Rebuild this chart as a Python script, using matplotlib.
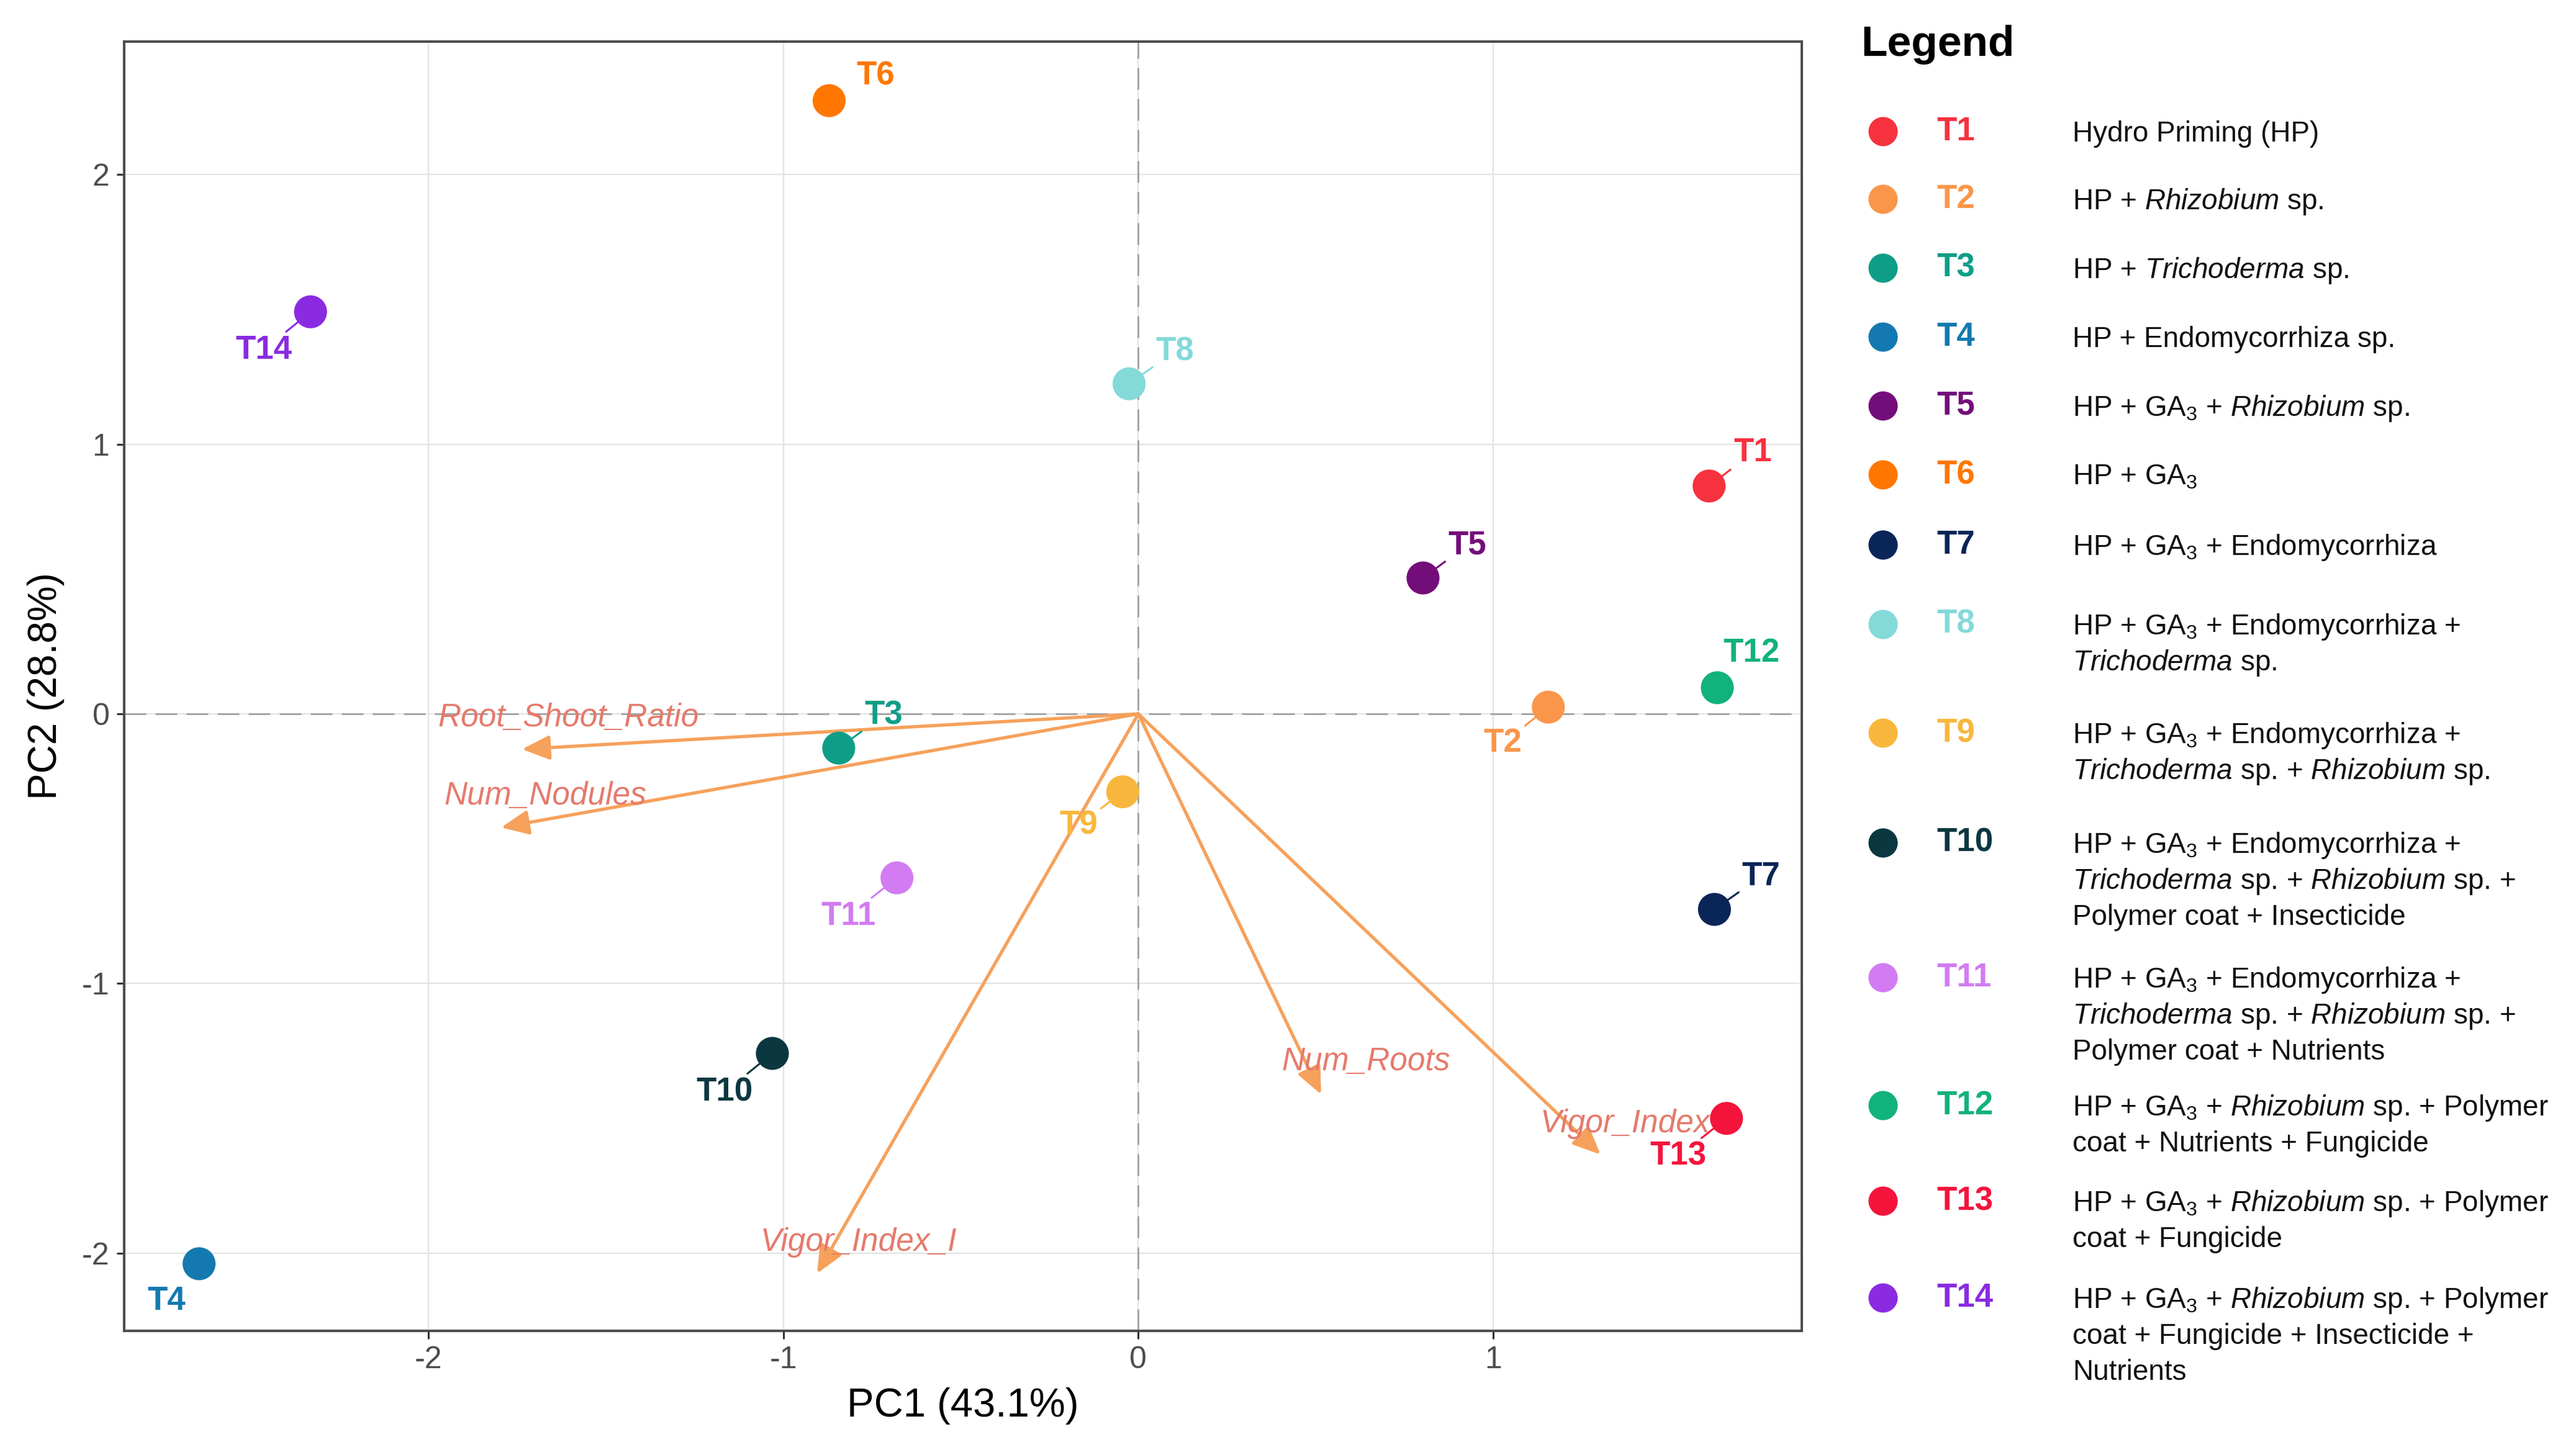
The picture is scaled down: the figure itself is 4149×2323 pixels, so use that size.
import matplotlib
matplotlib.use("Agg")
import matplotlib.pyplot as plt
from matplotlib.patches import FancyArrowPatch

plt.rcParams['font.family'] = ['Liberation Sans', 'DejaVu Sans']
plt.rcParams['mathtext.fontset'] = 'custom'
plt.rcParams['mathtext.rm'] = 'Liberation Sans'
plt.rcParams['mathtext.it'] = 'Liberation Sans:italic'
plt.rcParams['mathtext.bf'] = 'Liberation Sans:bold'

# ---------------- data ----------------
treatments = ['T1', 'T2', 'T3', 'T4', 'T5', 'T6', 'T7',
              'T8', 'T9', 'T10', 'T11', 'T12', 'T13', 'T14']
pc1 = [1.608, 1.155, -0.844, -2.646, 0.802, -0.871, 1.623,
       -0.026, -0.044, -1.031, -0.680, 1.631, 1.657, -2.332]
pc2 = [0.845, 0.025, -0.127, -2.039, 0.504, 2.274, -0.725,
       1.224, -0.289, -1.259, -0.608, 0.097, -1.500, 1.491]
colors = ['#F7323F', '#FA964A', '#0E9E87', '#1479B0', '#730D7A', '#FF7700', '#0A2557',
          '#84D9D9', '#F8B73C', '#0B3840', '#D27BF2', '#11B27C', '#F5143C', '#8A2BE2']

variables = ['Root_Shoot_Ratio', 'Num_Nodules', 'Num_Roots', 'Vigor_Index', 'Vigor_Index_I']
load_pc1 = [-1.736, -1.795, 0.515, 1.302, -0.905]
load_pc2 = [-0.131, -0.421, -1.411, -1.634, -2.075]

x_ticks = [-2, -1, 0, 1]
y_ticks = [-2, -1, 0, 1, 2]
x_title = 'PC1 (43.1%)'
y_title = 'PC2 (28.8%)'

descriptions = [
    ["Hydro Priming (HP)"],
    [r"HP + $\it{Rhizobium}$ sp."],
    [r"HP + $\it{Trichoderma}$ sp."],
    ["HP + Endomycorrhiza sp."],
    [r"HP + GA$_3$ + $\it{Rhizobium}$ sp."],
    [r"HP + GA$_3$"],
    [r"HP + GA$_3$ + Endomycorrhiza"],
    [r"HP + GA$_3$ + Endomycorrhiza +", r"$\it{Trichoderma}$ sp."],
    [r"HP + GA$_3$ + Endomycorrhiza +", r"$\it{Trichoderma}$ sp. + $\it{Rhizobium}$ sp."],
    [r"HP + GA$_3$ + Endomycorrhiza +", r"$\it{Trichoderma}$ sp. + $\it{Rhizobium}$ sp. +",
     "Polymer coat + Insecticide"],
    [r"HP + GA$_3$ + Endomycorrhiza +", r"$\it{Trichoderma}$ sp. + $\it{Rhizobium}$ sp. +",
     "Polymer coat + Nutrients"],
    [r"HP + GA$_3$ + $\it{Rhizobium}$ sp. + Polymer", "coat + Nutrients + Fungicide"],
    [r"HP + GA$_3$ + $\it{Rhizobium}$ sp. + Polymer", "coat + Fungicide"],
    [r"HP + GA$_3$ + $\it{Rhizobium}$ sp. + Polymer", "coat + Fungicide + Insecticide +",
     "Nutrients"],
]

# ---------------- layout (label placement, not data) ----------------
point_label_pos = [(1.731, 0.969), (1.027, -0.109), (-0.717, -0.005), (-2.738, -2.177),
                   (0.927, 0.626), (-0.741, 2.366), (1.754, -0.603), (0.103, 1.344),
                   (-0.168, -0.414), (-1.165, -1.402), (-0.817, -0.750), (1.727, 0.226),
                   (1.521, -1.641), (-2.464, 1.349)]
point_label_segment = [True, True, True, False, True, False, True,
                       True, True, True, True, False, True, True]
var_label_pos = [(-1.606, -0.016), (-1.671, -0.304), (0.642, -1.289),
                 (1.372, -1.521), (-0.789, -1.959)]
legend_row_y = [212, 321, 432, 543, 654, 765, 878, 1006, 1181, 1358, 1575, 1781, 1935, 2091]
legend_line_step = 58

W, H, DPI = 4149, 2323, 100
fig = plt.figure(figsize=(W / DPI, H / DPI), dpi=DPI, facecolor='white')

ax_l, ax_r, ax_t, ax_b = 200, 2902, 67, 2144
ax = fig.add_axes([ax_l / W, 1 - ax_b / H, (ax_r - ax_l) / W, (ax_b - ax_t) / H])
ax.set_facecolor('white')
ax.set_xlim(-2.857, 1.869)
ax.set_ylim(-2.288, 2.493)
ax.set_xticks(x_ticks)
ax.set_yticks(y_ticks)
ax.set_xticklabels([str(v) for v in x_ticks])
ax.set_yticklabels([str(v) for v in y_ticks])
ax.grid(True, color='#e4e4e4', lw=1.7)
ax.set_axisbelow(True)
for s in ax.spines.values():
    s.set_color('#4a4a4a')
    s.set_linewidth(2.8)
ax.tick_params(axis='both', length=9, width=2.2, color='#333333',
               labelsize=36, labelcolor='#4D4D4D', pad=8)

ax.axhline(0, color='#9a9a9a', lw=1.8, ls=(0, (14, 6)), zorder=1)
ax.axvline(0, color='#9a9a9a', lw=1.8, ls=(0, (14, 6)), zorder=1)

# variable arrows
arrow_color = '#F6A15B'
var_text_color = '#E57A6C'
for name, vx, vy, (tx, ty) in zip(variables, load_pc1, load_pc2, var_label_pos):
    arr = FancyArrowPatch((0, 0), (vx, vy), arrowstyle='-|>,head_length=27,head_width=12',
                          mutation_scale=1, shrinkA=0, shrinkB=0, color=arrow_color,
                          lw=3.8, zorder=3)
    ax.add_patch(arr)
    ax.text(tx, ty, name, color=var_text_color, fontsize=37, fontstyle='italic',
            ha='center', va='center', zorder=3.5)

# point labels
for name, px, py, c, (lx, ly), seg in zip(treatments, pc1, pc2, colors,
                                          point_label_pos, point_label_segment):
    if seg:
        ax.annotate(name, xy=(px, py), xytext=(lx, ly), textcoords='data',
                    ha='center', va='center', fontsize=38, fontweight='bold', color=c,
                    arrowprops=dict(arrowstyle='-', color=c, lw=2.2, shrinkA=2, shrinkB=0),
                    zorder=4)
    else:
        ax.text(lx, ly, name, ha='center', va='center', fontsize=38,
                fontweight='bold', color=c, zorder=4)

ax.scatter(pc1, pc2, s=1460, c=colors, edgecolors='none', zorder=5)

ax.set_xlabel(x_title, fontsize=47, color='black')
ax.set_ylabel(y_title, fontsize=46, color='black')
ax.xaxis.label.set_va('center')
ax.yaxis.label.set_va('center')
ax.xaxis.set_label_coords(0.5, (ax_b - 2265) / (ax_b - ax_t))
ax.yaxis.set_label_coords((74 - ax_l) / (ax_r - ax_l), 0.5)

# ---------------- legend panel ----------------
lax = fig.add_axes([0, 0, 1, 1], facecolor='none')
lax.set_xlim(0, W)
lax.set_ylim(H, 0)
lax.axis('off')

lax.text(2997, 72, 'Legend', fontsize=50, fontweight='bold', color='black',
         ha='left', va='center')
dot_x, tag_x, desc_x = 3033, 3119, 3338
for name, c, lines, y0 in zip(treatments, colors, descriptions, legend_row_y):
    lax.scatter([dot_x], [y0], s=1150, c=[c], edgecolors='none')
    lax.text(tag_x, y0, name, fontsize=38, fontweight='bold', color=c,
             ha='left', va='center')
    for k, line in enumerate(lines):
        lax.text(desc_x, y0 + k * legend_line_step + 16, line, fontsize=33,
                 color='#111111', ha='left', va='baseline')

fig.savefig('out.png', dpi=DPI, facecolor='white')
